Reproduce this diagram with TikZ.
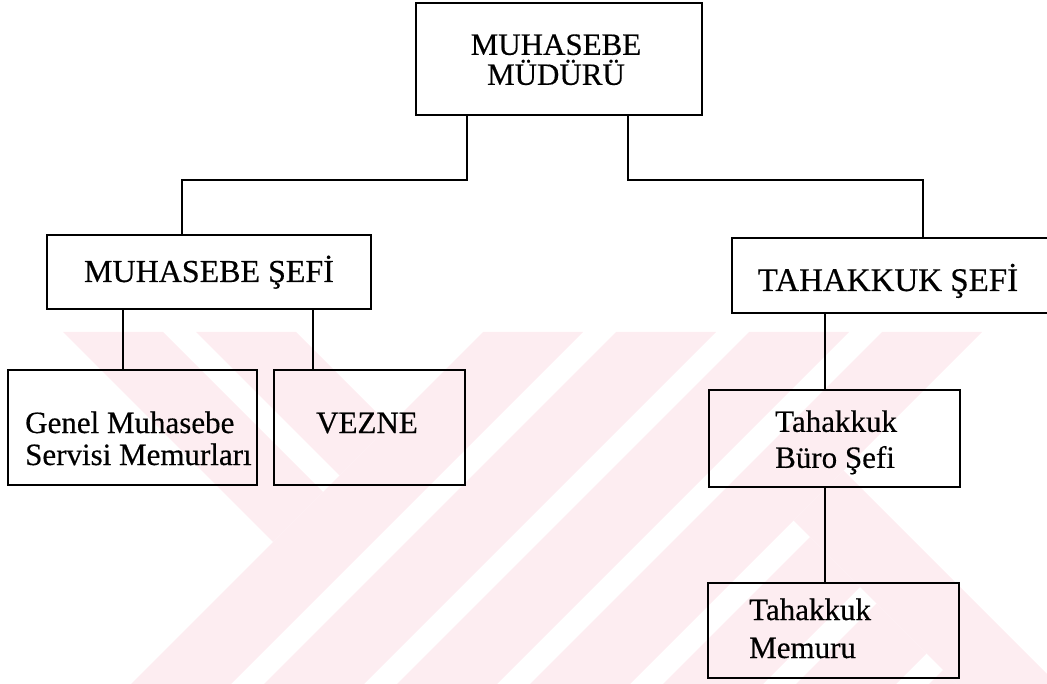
\documentclass[tikz,border=0pt]{standalone}
\usepackage{fontspec}
\setmainfont{Liberation Serif}
\newfontfamily\scanfont{Liberation Serif}[FakeBold=0.4]
\definecolor{wmpink}{RGB}{253,237,241}
\tikzset{
  box/.style={draw=black, line width=2.4pt, rectangle, inner sep=0pt},
  conn/.style={draw=black, line width=2.6pt},
  thin conn/.style={draw=black, line width=1.8pt},
  lbl/.style={inner sep=0pt},
  wm/.style={fill=wmpink, draw=none}
}
\begin{document}
\begin{tikzpicture}[x=1pt,y=-1pt]
\useasboundingbox (0,0) rectangle (1047,684);
% watermark
\begin{scope}
\clip (0,332) rectangle (1047,684);
% "/" stripes
\fill[wm] (483,332) -- (583,332) -- (231,684) -- (131,684) -- cycle;
\fill[wm] (616,332) -- (716,332) -- (364,684) -- (264,684) -- cycle;
\fill[wm] (749,332) -- (849,332) -- (497,684) -- (397,684) -- cycle;
\fill[wm] (882,332) -- (982,332) -- (630,684) -- (530,684) -- cycle;
% "\" arms on the left
\fill[wm] (63,332) -- (163,332) -- (323,492) -- (273,542) -- cycle;
\fill[wm] (196,332) -- (296,332) -- (389.5,425.5) -- (339.5,475.5) -- cycle;
% "\" stripe on the right
\fill[wm] (793.5,520.5) -- (843.5,470.5) -- (1057,684) -- (957,684) -- cycle;
% short "/" stripes below it
\fill[wm] (810,537) -- (860,587) -- (763,684) -- (663,684) -- cycle;
\fill[wm] (876.5,603.5) -- (926.5,653.5) -- (896,684) -- (796,684) -- cycle;
\fill[wm] (943,670) -- (957,684) -- (929,684) -- cycle;
\end{scope}
% boxes
\node[box, minimum width=286pt, minimum height=112pt] (top) at (559,59) {};
\node[box, minimum width=324pt, minimum height=74pt] (ms) at (209,272) {};
\node[box, minimum width=249pt, minimum height=115pt] (gm) at (132.5,427.5) {};
\node[box, minimum width=191pt, minimum height=115pt] (vz) at (369.5,427.5) {};
\node[box, minimum width=320pt, minimum height=75pt] (ts) at (892,275.5) {};
\node[box, minimum width=251pt, minimum height=97pt] (tb) at (834.5,438.5) {};
\node[box, minimum width=251pt, minimum height=95pt] (tm) at (833.5,630.5) {};
% texts
\node[lbl, align=center, font=\scanfont\fontsize{31}{30}\selectfont] (topt) at (556,59.75) {MUHASEBE\\MÜDÜRÜ};
\node[lbl, anchor=base, font=\scanfont\fontsize{32}{33}\selectfont] (mst) at (209,282) {MUHASEBE ŞEFİ};
\node[lbl, anchor=base, font=\scanfont\fontsize{33}{33}\selectfont] (tst) at (888,291) {TAHAKKUK ŞEFİ};
\node[lbl, anchor=base, font=\scanfont\fontsize{31}{33}\selectfont] (vzt) at (367,433) {VEZNE};
\node[lbl, anchor=west, align=left, font=\scanfont\fontsize{31}{32}\selectfont] (gmt) at (25,438.4) {Genel Muhasebe\\Servisi Memurları};
\node[lbl, anchor=west, align=left, font=\scanfont\fontsize{31}{36}\selectfont] (tbt) at (775,442.4) {Tahakkuk\\Büro Şefi};
\node[lbl, anchor=west, align=left, font=\scanfont\fontsize{31}{38}\selectfont] (tmt) at (749,628.4) {Tahakkuk\\Memuru};
% connector coordinates
\coordinate (j1) at (467,180);
\coordinate (j2) at (182,180);
\coordinate (j3) at (628,180);
\coordinate (j4) at (923,180);
\coordinate (c1) at (123,340);
\coordinate (c2) at (313,340);
\coordinate (c3) at (825,350);
% connectors
\draw[conn] (top.south -| j1) -- (j1) -- (j2) -- (ms.north -| j2);
\draw[conn] (top.south -| j3) -- (j3) -- (j4) -- (ts.north -| j4);
\draw[conn] (ms.south -| c1) -- (gm.north -| c1);
\draw[conn] (ms.south -| c2) -- (vz.north -| c2);
\draw[thin conn] (ts.south -| c3) -- (tb.north -| c3);
\draw[thin conn] (tb.south -| c3) -- (tm.north -| c3);
\end{tikzpicture}
\end{document}
